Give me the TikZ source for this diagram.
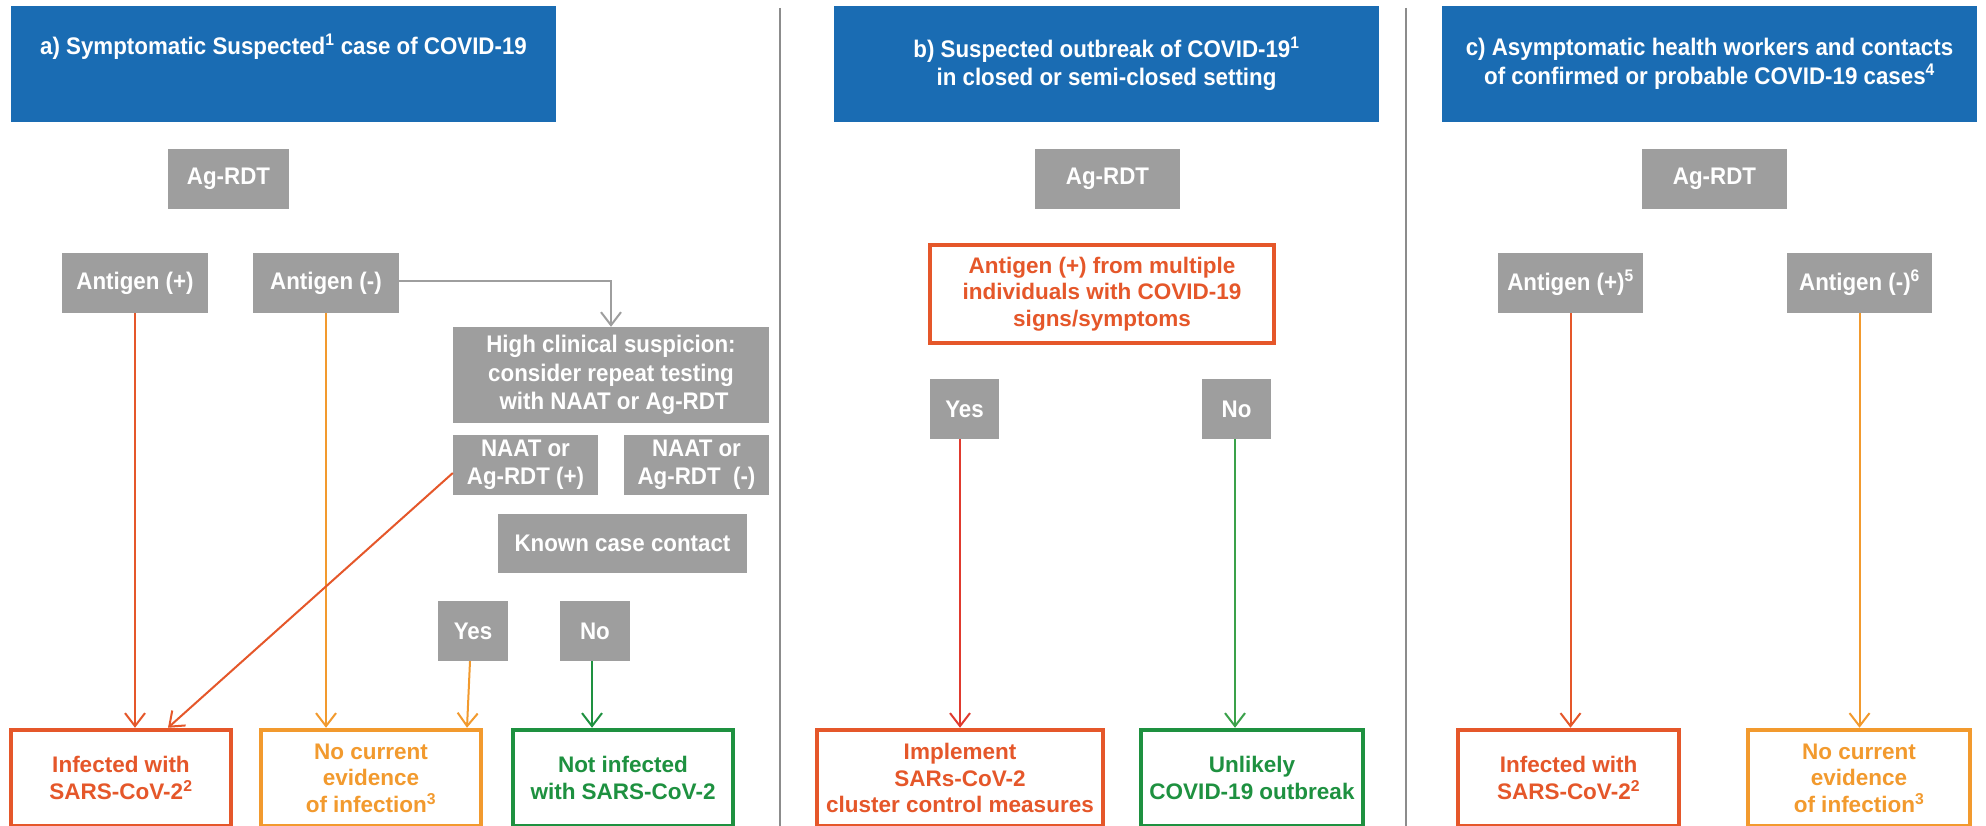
\documentclass[tikz,border=0pt]{standalone}
\usepackage{fontspec}
\setmainfont{Liberation Sans}
\newfontfamily\tallfont{Liberation Sans}[FakeStretch=0.93]
\usetikzlibrary{arrows.meta}
\definecolor{hdrblue}{HTML}{1A6CB3}
\definecolor{boxgray}{HTML}{9E9E9E}
\definecolor{infred}{HTML}{E5572A}
\definecolor{noamber}{HTML}{F29A2E}
\definecolor{okgreen}{HTML}{1E9140}
\definecolor{arrred}{HTML}{E03A2E}
\definecolor{arrgreen}{HTML}{3AA14A}
\definecolor{divgray}{HTML}{8C8C8C}
\newcommand\sups[1]{\textsuperscript{#1}}
\tikzset{
  txt/.style={font=\fontsize{22.5}{26.5}\selectfont\bfseries, align=center, inner sep=0pt},
  talltxt/.style={font=\tallfont\fontsize{24}{28.5}\selectfont\bfseries, align=center, inner sep=0pt},
  hdr/.style={talltxt, fill=hdrblue, text=white, minimum height=116pt},
  gbox/.style={talltxt, fill=boxgray, text=white},
  outbox/.style={txt, draw=#1, text=#1, line width=4.5pt, minimum height=96pt},
  conn/.style={draw=#1, line width=2pt, -{Straight Barb[length=13pt,width=20pt,line width=2pt]}},
  divider/.style={draw=divgray, line width=2pt}
}
\begin{document}
\begin{tikzpicture}[x=1pt,y=-1pt]
\useasboundingbox[fill=white] (0,0) rectangle (1986,826);
% dividers
\draw[divider] (780,8) -- (780,826);
\draw[divider] (1406,8) -- (1406,826);
% headers
\node[hdr, minimum width=545pt] (ha) at (283.5,64) {};
\node[talltxt, text=white, anchor=base] (ta) at (283.5,55) {a) Symptomatic Suspected\sups{1} case of COVID-19};
\node[hdr, minimum width=545pt] (hb) at (1106.5,64) {b) Suspected outbreak of COVID-19\sups{1}\\in closed or semi-closed setting};
\node[hdr, minimum width=535pt] (hc) at (1709.5,64) {c) Asymptomatic health workers and contacts\\of confirmed or probable COVID-19 cases\sups{4}};
% ---- panel a
\node[gbox, minimum width=121pt, minimum height=60pt] (agA) at (228.5,179) {Ag-RDT};
\node[gbox, minimum width=146pt, minimum height=60pt] (aposA) at (135,283) {Antigen (+)};
\node[gbox, minimum width=146pt, minimum height=60pt] (anegA) at (326,283) {Antigen (-)};
\node[gbox, minimum width=316pt, minimum height=96pt] (high) at (611,375) {High clinical suspicion:\\consider repeat testing\\\ with NAAT or Ag-RDT};
\node[gbox, minimum width=145pt, minimum height=60pt] (naatp) at (525.5,465) {NAAT or\\Ag-RDT (+)};
\node[gbox, minimum width=145pt, minimum height=60pt] (naatn) at (696.5,465) {NAAT or\\Ag-RDT\ \ (-)};
\node[gbox, minimum width=249pt, minimum height=59pt] (known) at (622.5,543.5) {Known case contact};
\node[gbox, minimum width=70pt, minimum height=60pt] (yesA) at (473,631) {Yes};
\node[gbox, minimum width=70pt, minimum height=60pt] (noA) at (595,631) {No};
\node[outbox=infred, minimum width=220pt] (infA) at (121,778) {Infected with\\SARS-CoV-2\sups{2}};
\node[outbox=noamber, minimum width=220pt] (nceA) at (371,778) {No current\\evidence\\of infection\sups{3}};
\node[outbox=okgreen, minimum width=220pt] (notA) at (623,778) {Not infected\\with SARS-CoV-2};
\draw[conn=infred] (aposA.south) -- (aposA.south |- infA.north);
\draw[conn=noamber] (anegA.south) -- (anegA.south |- nceA.north);
\draw[conn=infred] ([yshift=-8pt]naatp.west) -- ([xshift=47pt]infA.north);
\draw[conn=noamber] ([xshift=-3pt]yesA.south) -- ([xshift=96pt]nceA.north);
\draw[conn=okgreen] ([xshift=-3pt]noA.south) -- ([xshift=-3pt]noA.south |- notA.north);
\draw[conn=boxgray] ([yshift=2pt]anegA.east) -| (high.north);
% ---- panel b
\node[gbox, minimum width=145pt, minimum height=60pt] (agB) at (1107.5,179) {Ag-RDT};
\node[outbox=infred, minimum width=344pt, minimum height=98pt, line width=4pt] (multi) at (1102,294) {Antigen (+) from multiple\\individuals with COVID-19\\signs/symptoms};
\node[gbox, minimum width=69pt, minimum height=60pt] (yesB) at (964.5,409) {Yes};
\node[gbox, minimum width=69pt, minimum height=60pt] (noB) at (1236.5,409) {No};
\node[outbox=infred, minimum width=286pt] (impl) at (960,778) {Implement\\SARs-CoV-2\\cluster control measures};
\node[outbox=okgreen, minimum width=222pt] (unl) at (1252,778) {Unlikely\\COVID-19 outbreak};
\draw[conn=arrred] (yesB.south -| impl.north) -- (impl.north);
\draw[conn=arrgreen] ([xshift=-1.5pt]noB.south) -- ([xshift=-1.5pt]noB.south |- unl.north);
% ---- panel c
\node[gbox, minimum width=145pt, minimum height=60pt] (agC) at (1714.5,179) {Ag-RDT};
\node[gbox, minimum width=145pt, minimum height=60pt] (aposC) at (1570.5,283) {Antigen (+)\sups{5}};
\node[gbox, minimum width=145pt, minimum height=60pt] (anegC) at (1859.5,283) {Antigen (-)\sups{6}};
\node[outbox=infred, minimum width=221pt] (infC) at (1568.5,778) {Infected with\\SARS-CoV-2\sups{2}};
\node[outbox=noamber, minimum width=222pt] (nceC) at (1859,778) {No current\\evidence\\of infection\sups{3}};
\draw[conn=infred] (aposC.south) -- (aposC.south |- infC.north);
\draw[conn=noamber] (anegC.south) -- (anegC.south |- nceC.north);
\end{tikzpicture}
\end{document}
